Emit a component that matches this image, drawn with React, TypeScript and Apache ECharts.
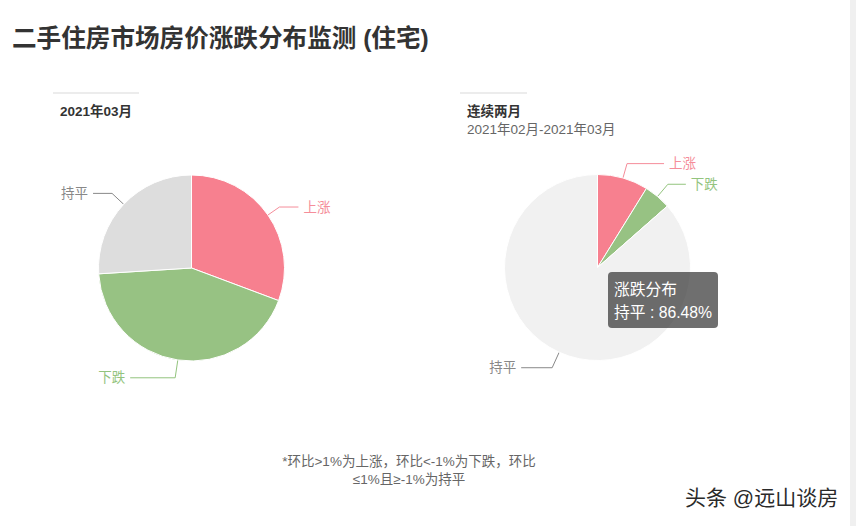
import React, { useEffect, useRef } from "react";
import * as echarts from "echarts";

const categories = ["上涨", "下跌", "持平"];
const monthValues = [30.7, 43.3, 26.0];
const twoMonthValues = [8.82, 4.7, 86.48];
const seriesName = "涨跌分布";
const tipIndex = 2;

const sliceColors = ["#f7808f", "#97c283", "#dddddd"];
const sliceColorsRight = ["#f7808f", "#97c283", "#f1f1f1"];
const labelColors = ["#f58d9a", "#93c47e", "#888888"];
// [length, length2] of each label line
const leftLines = [[14, 19], [18, 45], [16, 19]];
const rightLines = [[15, 37], [16, 18], [17, 31]];

const FONT = '"Liberation Sans", "Noto Sans CJK SC", sans-serif';

const buildData = (values: number[], colors: string[], lines: number[][]) =>
  categories.map((name, i) => ({
    name,
    value: values[i],
    itemStyle: { color: colors[i] },
    label: { color: labelColors[i] },
    labelLine: {
      length: lines[i][0],
      length2: lines[i][1],
      lineStyle: { color: labelColors[i] },
    },
  }));

const App: React.FC = () => {
  const chartRef = useRef<HTMLDivElement>(null);

  useEffect(() => {
    const chart = echarts.init(chartRef.current!, undefined, { renderer: "svg" });

    const pieBase = {
      type: "pie",
      name: seriesName,
      radius: 93,
      startAngle: 90,
      avoidLabelOverlap: false,
      itemStyle: { borderColor: "#fff", borderWidth: 1 },
      label: { show: true, formatter: "{b}", fontSize: 13.5, fontFamily: FONT },
      labelLine: { lineStyle: { width: 1 } },
      emphasis: { disabled: true },
    };

    const tipText =
      seriesName + "\n" + categories[tipIndex] + " : " + twoMonthValues[tipIndex].toFixed(2) + "%";

    const options = {
      animation: false,
      backgroundColor: "#ffffff",
      textStyle: { fontFamily: FONT },
      title: [
        {
          text: "二手住房市场房价涨跌分布监测 (住宅)",
          left: 12,
          top: 26,
          padding: 0,
          textStyle: { fontSize: 24.6, fontWeight: "bold", color: "#333", fontFamily: FONT },
        },
        {
          text: "2021年03月",
          left: 60,
          top: 104.25,
          padding: 0,
          textStyle: { fontSize: 13.5, fontWeight: "bold", color: "#333", fontFamily: FONT },
        },
        {
          text: "连续两月",
          subtext: "2021年02月-2021年03月",
          left: 467,
          top: 104.25,
          padding: 0,
          itemGap: 5.5,
          textStyle: { fontSize: 13.5, fontWeight: "bold", color: "#333", fontFamily: FONT },
          subtextStyle: { fontSize: 13.5, color: "#666", fontFamily: FONT },
        },
      ],
      series: [
        { ...pieBase, center: [191.5, 268], data: buildData(monthValues, sliceColors, leftLines) },
        {
          ...pieBase,
          center: [597.5, 267.5],
          data: buildData(twoMonthValues, sliceColorsRight, rightLines),
        },
      ],
      graphic: [
        { type: "line", shape: { x1: 53, y1: 93, x2: 139, y2: 93 }, style: { stroke: "#ececec", lineWidth: 2 } },
        { type: "line", shape: { x1: 460, y1: 93, x2: 527, y2: 93 }, style: { stroke: "#ececec", lineWidth: 2 } },
        {
          type: "rect",
          z: 100,
          shape: { x: 608, y: 272, width: 110, height: 56, r: 4 },
          style: { fill: "rgba(50,50,50,0.7)" },
        },
        {
          type: "text",
          z: 101,
          x: 614,
          y: 277.5,
          style: {
            text: tipText,
            fill: "#fff",
            fontSize: 15.75,
            lineHeight: 23,
            fontFamily: FONT,
          },
        },
        {
          type: "text",
          x: 409,
          y: 452,
          style: {
            text: "*环比>1%为上涨，环比<-1%为下跌，环比\n≤1%且≥-1%为持平",
            fill: "#666",
            fontSize: 13.5,
            lineHeight: 18,
            align: "center",
            verticalAlign: "top",
            fontFamily: FONT,
          },
        },
        {
          type: "text",
          x: 685,
          y: 487,
          style: {
            text: "头条 @远山谈房",
            fill: "#2a2a2a",
            fontSize: 21,
            fontFamily: FONT,
          },
        },
        { type: "rect", shape: { x: 850, y: 0, width: 6, height: 526 }, style: { fill: "#f0f0f0" } },
      ],
    };
    chart.setOption(options as any);

    return () => {
      chart.dispose();
    };
  }, []);

  return (
    <div
      ref={chartRef}
      style={{ position: "fixed", left: 0, top: 0, width: 856, height: 526 }}
    ></div>
  );
};

export default App;
